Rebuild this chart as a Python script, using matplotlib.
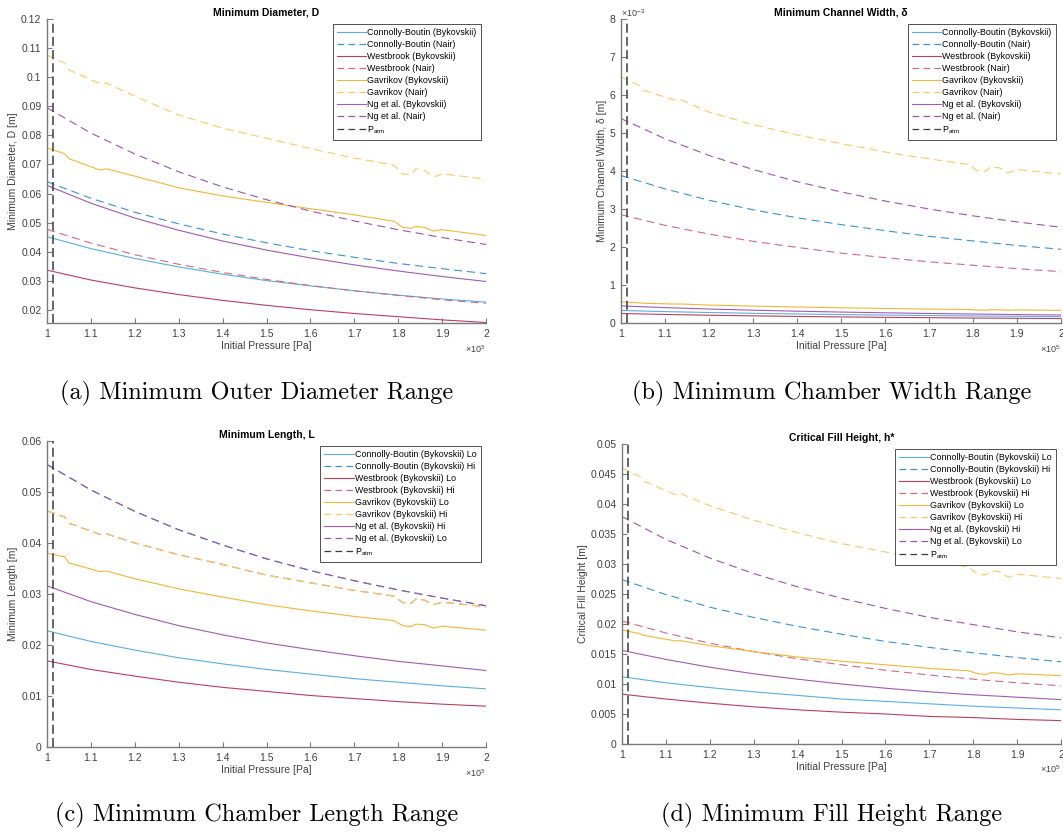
import numpy as np
import matplotlib
matplotlib.use("Agg")
import matplotlib.pyplot as plt
from matplotlib.ticker import FixedLocator, FuncFormatter

plt.rcParams['font.family'] = ['Liberation Sans', 'DejaVu Sans']
plt.rcParams['mathtext.default'] = 'regular'
plt.rcParams['lines.scale_dashes'] = False

# ---------------- data ----------------
# pressure grid (x 1e5 Pa)
p_grid = [1.0, 1.1, 1.2, 1.3, 1.4, 1.5, 1.6, 1.7, 1.8, 1.9, 2.0]
# finer grid for the Gavrikov curves (they have small kinks)
p_gav = [1.0, 1.04, 1.05, 1.12, 1.135, 1.2, 1.3, 1.4, 1.5, 1.6, 1.7,
         1.79, 1.81, 1.83, 1.84, 1.86, 1.88, 1.9, 2.0]
p_atm = 101325.0

# (a) Minimum Diameter D [m]
a_cb_byk = [0.0452, 0.0411, 0.0377, 0.0348, 0.0323, 0.0301, 0.0283, 0.0266, 0.0251, 0.0238, 0.0227]
a_cb_nair = [0.0641, 0.0584, 0.0536, 0.0496, 0.0461, 0.0431, 0.0404, 0.0381, 0.0360, 0.0342, 0.0325]
a_wb_byk = [0.0337, 0.0303, 0.0276, 0.0253, 0.0233, 0.0216, 0.0201, 0.0188, 0.0177, 0.0166, 0.0157]
a_wb_nair = [0.0477, 0.0430, 0.0390, 0.0357, 0.0329, 0.0305, 0.0284, 0.0266, 0.0250, 0.0235, 0.0223]
a_gav_byk = [0.0757, 0.0737, 0.0720, 0.0681, 0.0685, 0.0660, 0.0620, 0.0592, 0.0570, 0.0548, 0.0527,
             0.0505, 0.0484, 0.0481, 0.0487, 0.0484, 0.0471, 0.0476, 0.0456]
a_gav_nair = [0.1076, 0.1049, 0.1025, 0.0978, 0.0980, 0.0935, 0.0870, 0.0825, 0.0790, 0.0755, 0.0722,
              0.0698, 0.0667, 0.0665, 0.0685, 0.0680, 0.0656, 0.0668, 0.0650]
a_ng_byk = [0.0628, 0.0567, 0.0516, 0.0474, 0.0437, 0.0406, 0.0379, 0.0355, 0.0334, 0.0315, 0.0298]
a_ng_nair = [0.0895, 0.0808, 0.0736, 0.0675, 0.0623, 0.0579, 0.0540, 0.0506, 0.0476, 0.0449, 0.0425]

# (b) Minimum Channel Width delta [mm]
b_cb_byk = [0.33, 0.30, 0.276, 0.255, 0.238, 0.222, 0.208, 0.196, 0.186, 0.176, 0.167]
b_cb_nair = [3.88, 3.53, 3.23, 2.98, 2.77, 2.59, 2.43, 2.28, 2.16, 2.04, 1.94]
b_wb_byk = [0.25, 0.225, 0.205, 0.188, 0.173, 0.16, 0.149, 0.140, 0.131, 0.124, 0.117]
b_wb_nair = [2.85, 2.57, 2.34, 2.15, 1.99, 1.84, 1.72, 1.61, 1.52, 1.43, 1.35]
b_gav_byk = [0.551, 0.532, 0.521, 0.499, 0.500, 0.472, 0.444, 0.421, 0.401, 0.383, 0.367,
             0.354, 0.340, 0.339, 0.350, 0.347, 0.336, 0.343, 0.333]
b_gav_nair = [6.48, 6.26, 6.13, 5.87, 5.88, 5.55, 5.22, 4.95, 4.72, 4.50, 4.32,
              4.17, 4.00, 3.99, 4.12, 4.08, 3.95, 4.04, 3.92]
b_ng_byk = [0.45, 0.405, 0.368, 0.337, 0.311, 0.288, 0.268, 0.251, 0.236, 0.222, 0.21]
b_ng_nair = [5.38, 4.85, 4.41, 4.04, 3.72, 3.45, 3.21, 3.00, 2.82, 2.66, 2.52]

# (c) Minimum Length L [m]
c_cb_lo = [0.0228, 0.0207, 0.0190, 0.0175, 0.0163, 0.0152, 0.0143, 0.0134, 0.0127, 0.0120, 0.0114]
c_cb_hi = [0.0554, 0.0504, 0.0462, 0.0426, 0.0396, 0.0369, 0.0346, 0.0326, 0.0308, 0.0292, 0.0277]
c_wb_lo = [0.0169, 0.0152, 0.0139, 0.0127, 0.0117, 0.0109, 0.0101, 0.0095, 0.0089, 0.0084, 0.0080]
c_wb_hi = [0.0463, 0.0451, 0.0439, 0.0417, 0.0418, 0.0400, 0.0377, 0.0358, 0.0337, 0.0322, 0.0307,
           0.0296, 0.0283, 0.0282, 0.0290, 0.0288, 0.0279, 0.0284, 0.0275]
c_gav_lo = [0.0380, 0.0373, 0.0361, 0.0344, 0.0345, 0.0330, 0.0310, 0.0294, 0.0279, 0.0267, 0.0256,
            0.0248, 0.0238, 0.0236, 0.0241, 0.0240, 0.0233, 0.0237, 0.0229]
c_gav_hi = [0.0463, 0.0451, 0.0439, 0.0417, 0.0418, 0.0400, 0.0377, 0.0358, 0.0337, 0.0322, 0.0307,
            0.0296, 0.0283, 0.0282, 0.0290, 0.0288, 0.0279, 0.0284, 0.0275]
c_ng_hi = [0.0316, 0.0285, 0.0260, 0.0238, 0.0220, 0.0204, 0.0191, 0.0179, 0.0168, 0.0159, 0.0150]
c_ng_lo = [0.0554, 0.0504, 0.0462, 0.0426, 0.0396, 0.0369, 0.0346, 0.0326, 0.0308, 0.0292, 0.0277]

# (d) Critical Fill Height h* [m]
d_cb_lo = [0.0112, 0.0102, 0.0094, 0.0087, 0.0081, 0.0075, 0.0071, 0.0067, 0.0063, 0.0060, 0.0057]
d_cb_hi = [0.0274, 0.0249, 0.0228, 0.0211, 0.0196, 0.0183, 0.0171, 0.0161, 0.0152, 0.0144, 0.0137]
d_wb_lo = [0.0083, 0.0075, 0.0068, 0.0062, 0.0057, 0.0053, 0.0050, 0.0046, 0.0044, 0.0041, 0.0039]
d_wb_hi = [0.0205, 0.0185, 0.0168, 0.0154, 0.0142, 0.0132, 0.0123, 0.0115, 0.0108, 0.0102, 0.0097]
d_gav_lo = [0.0190, 0.0184, 0.0181, 0.0172, 0.0172, 0.0164, 0.0154, 0.0145, 0.0138, 0.0132, 0.0126,
            0.0122, 0.0117, 0.0116, 0.0119, 0.0118, 0.0115, 0.0117, 0.0114]
d_gav_hi = [0.0460, 0.0446, 0.0438, 0.0416, 0.0417, 0.0397, 0.0373, 0.0352, 0.0334, 0.0320, 0.0305,
            0.0295, 0.0283, 0.0282, 0.0289, 0.0287, 0.0278, 0.0283, 0.0276]
d_ng_hi = [0.0156, 0.0141, 0.0128, 0.0117, 0.0108, 0.0100, 0.0093, 0.0087, 0.0082, 0.0078, 0.0074]
d_ng_lo = [0.0379, 0.0341, 0.0310, 0.0284, 0.0262, 0.0243, 0.0226, 0.0211, 0.0199, 0.0187, 0.0177]

labels_ab = ["Connolly-Boutin (Bykovskii)", "Connolly-Boutin (Nair)",
             "Westbrook (Bykovskii)", "Westbrook (Nair)",
             "Gavrikov (Bykovskii)", "Gavrikov (Nair)",
             "Ng et al. (Bykovskii)", "Ng et al. (Nair)"]
labels_cd = ["Connolly-Boutin (Bykovskii) Lo", "Connolly-Boutin (Bykovskii) Hi",
             "Westbrook (Bykovskii) Lo", "Westbrook (Bykovskii) Hi",
             "Gavrikov (Bykovskii) Lo", "Gavrikov (Bykovskii) Hi",
             "Ng et al. (Bykovskii) Hi", "Ng et al. (Bykovskii) Lo"]

# ---------------- style ----------------
col_solid = ['#5AAEE3', '#B8405C', '#F1B63A', '#A25AB4']
col_dash = ['#3A92D4', '#D0697E', '#F6CB63', '#9B55AC']
dash = (0, (5.8, 3.6))
W, H = 1063, 834
fig = plt.figure(figsize=(W / 100, H / 100), dpi=100)

def px_axes(l, t, r, b):
    return fig.add_axes([l / W, 1 - b / H, (r - l) / W, (b - t) / H])

axa = px_axes(47, 19, 486, 323)
axb = px_axes(621, 19, 1061, 323)
axc = px_axes(47, 441, 486, 747)
axd = px_axes(622, 444, 1061, 744)

Pg = np.array(p_grid) * 1e5
Pv = np.array(p_gav) * 1e5
mm = 1e-3

panels = [
    (axa, [a_cb_byk, a_cb_nair, a_wb_byk, a_wb_nair, a_gav_byk, a_gav_nair, a_ng_byk, a_ng_nair], 1.0,
     labels_ab, (0.01553, 0.12), np.arange(0.02, 0.1201, 0.01), "Minimum Diameter, D", "Minimum Diameter, D [m]", 1.0),
    (axb, [b_cb_byk, b_cb_nair, b_wb_byk, b_wb_nair, b_gav_byk, b_gav_nair, b_ng_byk, b_ng_nair], mm,
     labels_ab, (0, 0.008), np.arange(0, 0.00801, 0.001), "Minimum Channel Width, δ", "Minimum Channel Width, δ [m]", 1e3),
    (axc, [c_cb_lo, c_cb_hi, c_wb_lo, c_wb_hi, c_gav_lo, c_gav_hi, c_ng_hi, c_ng_lo], 1.0,
     labels_cd, (0, 0.06), np.arange(0, 0.0601, 0.01), "Minimum Length, L", "Minimum Length [m]", 1.0),
    (axd, [d_cb_lo, d_cb_hi, d_wb_lo, d_wb_hi, d_gav_lo, d_gav_hi, d_ng_hi, d_ng_lo], 1.0,
     labels_cd, (0, 0.05), np.arange(0, 0.0501, 0.005), "Critical Fill Height, h*", "Critical Fill Height [m]", 1.0),
]

tick_col = '#404040'
for ax, series, scale, labels, ylim, yticks, title, ylabel, yfac in panels:
    for i, ys in enumerate(series):
        model = i // 2
        xs = Pv if len(ys) == len(p_gav) else Pg
        yv = np.array(ys) * scale
        if i % 2 == 0:
            ax.plot(xs, yv, color=col_solid[model], lw=0.8, label=labels[i])
        else:
            ax.plot(xs, yv, color=col_dash[model], lw=0.8, linestyle=dash, label=labels[i])
    ax.axvline(p_atm, color='#3a3a3a', lw=1.1, linestyle=(0, (6.5, 3.0)), label=r'P$_{atm}$')
    ax.set_xlim(1e5, 2e5)
    ax.set_ylim(*ylim)
    ax.xaxis.set_major_locator(FixedLocator(np.arange(1.0, 2.001, 0.1) * 1e5))
    ax.xaxis.set_major_formatter(FuncFormatter(lambda v, p: f'{v / 1e5:g}'))
    ax.yaxis.set_major_locator(FixedLocator(yticks))
    ax.yaxis.set_major_formatter(FuncFormatter(lambda v, p, f=yfac: f'{round(v * f, 6):g}'))
    for s in ['top', 'right']:
        ax.spines[s].set_visible(False)
    for s in ['left', 'bottom']:
        ax.spines[s].set_color('#7a7a7a')
        ax.spines[s].set_linewidth(1.0)
    ax.tick_params(direction='in', length=3.5, width=0.8, color='#7a7a7a',
                   labelcolor=tick_col, labelsize=7.5, pad=4)
    ax.set_title(title, fontsize=7.5, fontweight='bold', pad=2.5)
    ax.set_xlabel("Initial Pressure [Pa]", fontsize=7.5, color=tick_col, labelpad=2)
    ax.set_ylabel(ylabel, fontsize=7.5, color=tick_col, labelpad=2)
    ax.text(1.0, -0.085, r'$\times10^{5}$', transform=ax.transAxes, ha='right', va='center',
            fontsize=6.5, color=tick_col)
    leg = ax.legend(loc='upper right', fontsize=6.4, frameon=True, fancybox=False,
                    framealpha=1, edgecolor='#333333', borderpad=0.45, labelspacing=0.34,
                    handlelength=3.3, handletextpad=0.15, borderaxespad=0.6)
    leg.get_frame().set_linewidth(0.6)
    for ln in leg.get_lines():
        if ln.get_linestyle() not in ('-', 'solid'):
            ln.set_linestyle((0, (4.8, 3.1)))
            ln.set_linewidth(0.9)

axb.text(0.0, 1.0, r'$\times10^{-3}$', transform=axb.transAxes, ha='left', va='bottom',
         fontsize=6.5, color=tick_col)

cap_kw = dict(ha='center', va='center', fontsize=17.5, family='cmr10')
fig.text(257 / W, 1 - 393 / H, "(a) Minimum Outer Diameter Range", **cap_kw)
fig.text(832 / W, 1 - 393 / H, "(b) Minimum Chamber Width Range", **cap_kw)
fig.text(257 / W, 1 - 815 / H, "(c) Minimum Chamber Length Range", **cap_kw)
fig.text(832 / W, 1 - 815 / H, "(d) Minimum Fill Height Range", **cap_kw)

fig.savefig("out.png", dpi=100)
